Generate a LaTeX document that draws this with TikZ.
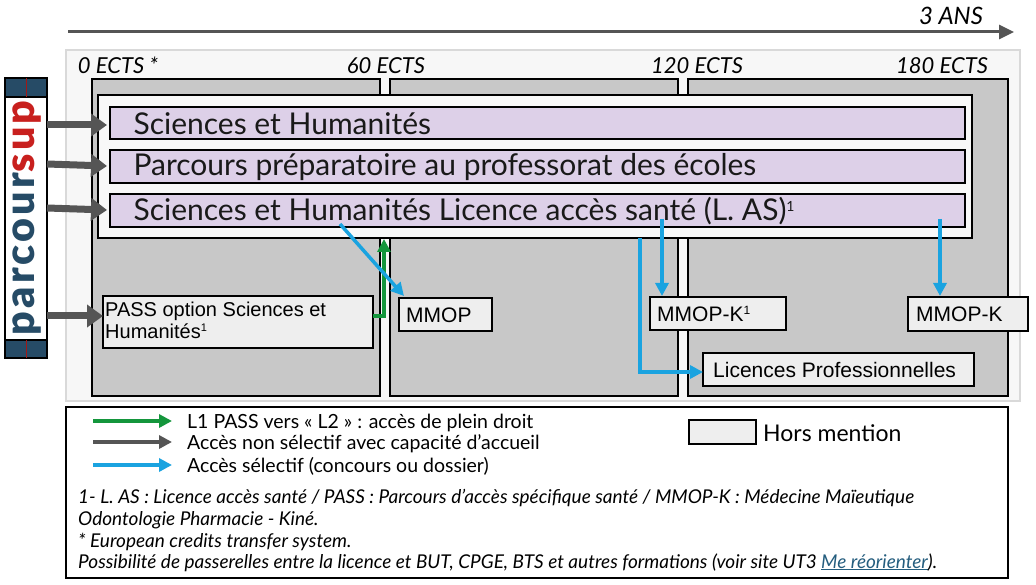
\documentclass[tikz,border=0pt]{standalone}
\usepackage{fontspec}
\setmainfont{Lato}
\newfontfamily\arialf{Liberation Sans}
\newfontfamily\psfont[LetterSpace=8]{Lato Black}
\usetikzlibrary{arrows.meta}
\definecolor{colgray}{HTML}{C8C8C8}
\definecolor{barpurple}{HTML}{DDD0E8}
\definecolor{boxgray}{HTML}{EEEEEE}
\definecolor{darkg}{HTML}{555555}
\definecolor{greena}{HTML}{14963C}
\definecolor{bluea}{HTML}{1AA3E0}
\definecolor{psblue}{HTML}{264B66}
\definecolor{psred}{HTML}{C8201E}
\tikzset{
 col/.style={draw=black,fill=colgray,line width=1.2pt},
 bar/.style={draw=black,fill=barpurple,line width=1.2pt},
 bartext/.style={anchor=west,font=\fontsize{30}{32}\selectfont,text=black!90},
 gbox/.style={draw=black,fill=boxgray,line width=1.2pt},
 gtext/.style={font=\arialf\fontsize{21}{22}\selectfont,anchor=west,inner sep=0pt},
 ects/.style={font=\itshape\fontsize{22}{24}\selectfont,anchor=base},
 grayarr/.style={draw=darkg,line width=7pt,-{Triangle[length=16pt,width=22pt]}},
 greenarr/.style={draw=greena,line width=3.5pt,-{Triangle[length=13pt,width=13pt]}},
 bluearr/.style={draw=bluea,line width=3.5pt,-{Triangle[length=13pt,width=13pt]}},
 legtext/.style={font=\fontsize{19.5}{21}\selectfont,anchor=west,inner sep=0pt},
 foot/.style={font=\itshape\fontsize{19}{21}\selectfont,anchor=base west,inner sep=0pt},
}
\begin{document}
\begin{tikzpicture}[x=1pt,y=-1pt]
\useasboundingbox (0,0) rectangle (1036,585);
\fill[white] (0,0) rectangle (1036,585);
% timeline
\coordinate (t0) at (68,32); \coordinate (t1) at (1014,32);
\draw[darkg,line width=3pt,-{Triangle[length=15pt,width=14pt]}] (t0) -- (t1);
\node[font=\itshape\fontsize{24}{25}\selectfont,anchor=base] (ans) at (951,25) {3 ANS};
% frame
\draw[black!15,fill=black!3,line width=1.5pt] (66,50) rectangle (1020,401);
\node[ects] (e0) at (118,74) {0 ECTS *};
\node[ects] (e1) at (386,74) {60 ECTS};
\node[ects] (e2) at (697,74) {120 ECTS};
\node[ects] (e3) at (942,74) {180 ECTS};
% columns
\draw[col] (92,79) rectangle (380,396);
\draw[col] (390,79) rectangle (678,396);
\draw[col] (688,79) rectangle (1008,396);
% white box
\draw[black,fill=boxgray!40,line width=1.2pt] (98,95) rectangle (972,238);
\draw[bar] (110,107) rectangle (965,139);
\draw[bar] (110,150) rectangle (965,183);
\draw[bar] (110,194) rectangle (965,227);
\node[bartext] (b1) at (130,124) {Sciences et Humanités};
\node[bartext] (b2) at (130,167) {Parcours préparatoire au professorat des écoles};
\node[bartext] (b3) at (130,211) {Sciences et Humanités Licence accès santé (L.~AS)\textsuperscript{\fontsize{14}{14}\selectfont 1}};
\coordinate (b1w) at (107,125); \coordinate (b2w) at (107,166); \coordinate (b3w) at (107,210);
% boxes
\draw[gbox] (103,296) rectangle (373,348);
\node[font=\arialf\fontsize{20}{22}\selectfont,align=left,anchor=north west,inner sep=0pt] (pass) at (105,302) {PASS option Sciences et\\Humanités\textsuperscript{\fontsize{11}{11}\selectfont 1}};
\coordinate (passw) at (103,316); \coordinate (passe) at (373,316);
\draw[gbox] (399,298) rectangle (492,331);
\node[gtext] (mmop) at (406,315) {MMOP};
\draw[gbox] (650,297) rectangle (786,330);
\node[gtext] (mmopk1) at (657,314) {MMOP-K\textsuperscript{\fontsize{12}{12}\selectfont 1}};
\draw[gbox] (908,297) rectangle (1028,331);
\node[gtext] (mmopk) at (916,314) {MMOP-K};
\draw[gbox] (703,353) rectangle (974,386);
\node[gtext] (lp) at (713,370) {Licences Professionnelles};
% parcoursup logo
\draw[black,fill=white,line width=1.2pt] (5,95) rectangle (47,342);
\fill[psblue] (5,78) rectangle (47,97);
\fill[psblue] (5,340) rectangle (47,358);
\draw[black,line width=1.2pt] (5,78) rectangle (47,97);
\draw[black,line width=1.2pt] (5,340) rectangle (47,358);
\draw[psred!80!black,line width=1pt] (26,78) -- (26,97);
\draw[psred!80!black,line width=1pt] (26,340) -- (26,358);
\node[rotate=90,font=\psfont\fontsize{36}{36}\selectfont,inner sep=0pt,anchor=center] (ps) at (27,218) {\resizebox{235pt}{!}{\textcolor{psblue}{parcour}\textcolor{psred}{sup}}};
\coordinate (l1) at (47,125); \coordinate (l2) at (47,164); \coordinate (l3) at (47,208); \coordinate (l4) at (47,316);
\draw[grayarr] (l1) -- (b1w);
\draw[grayarr] (l2) -- (b2w);
\draw[grayarr] (l3) -- (b3w);
\draw[grayarr] (l4) -- (passw);
% green / blue arrows
\coordinate (gtop) at (384,239);
\draw[greenarr] (passe) -- (384,316) -- (gtop);
\coordinate (bs1) at (340,224); \coordinate (bt1) at (404,296);
\draw[bluearr] (bs1) -- (bt1);
\coordinate (bs2) at (662,219); \coordinate (bt2) at (662,296);
\draw[bluearr] (bs2) -- (bt2);
\coordinate (bs3) at (640,238); \coordinate (bt3) at (703,372);
\draw[bluearr] (bs3) -- (640,372) -- (bt3);
\coordinate (bs4) at (940,219); \coordinate (bt4) at (940,296);
\draw[bluearr] (bs4) -- (bt4);
% legend
\draw[black,fill=white,line width=1.2pt] (66,407) rectangle (1008,578);
\coordinate (g0) at (93,421); \coordinate (g1) at (172,421);
\coordinate (d0) at (93,442); \coordinate (d1) at (172,442);
\coordinate (c0) at (93,465); \coordinate (c1) at (172,465);
\draw[greenarr] (g0) -- (g1);
\draw[draw=darkg,line width=3.5pt,-{Triangle[length=13pt,width=13pt]}] (d0) -- (d1);
\draw[bluearr] (c0) -- (c1);
\node[legtext] (lg1) at (187,423) {L1 PASS vers «~L2~» : accès de plein droit};
\node[legtext] (lg2) at (187,444) {Accès non sélectif avec capacité d’accueil};
\node[legtext] (lg3) at (187,466) {Accès sélectif (concours ou dossier)};
\draw[gbox] (689,420) rectangle (756,444);
\node[legtext,font=\fontsize{23}{24}\selectfont] (hm) at (763,433) {Hors mention};
\node[foot] (f1) at (78,503) {1- L. AS : Licence accès santé / PASS : Parcours d’accès spécifique santé / MMOP-K : Médecine Maïeutique};
\node[foot] (f2) at (78,525) {Odontologie Pharmacie - Kiné.};
\node[foot] (f3) at (78,547) {* European credits transfer system.};
\node[foot] (f4) at (78,568) {Possibilité de passerelles entre la licence et BUT, CPGE, BTS et autres formations (voir site UT3 \textcolor{psblue!80!bluea}{\underline{Me réorienter}}).};
\end{tikzpicture}
\end{document}
